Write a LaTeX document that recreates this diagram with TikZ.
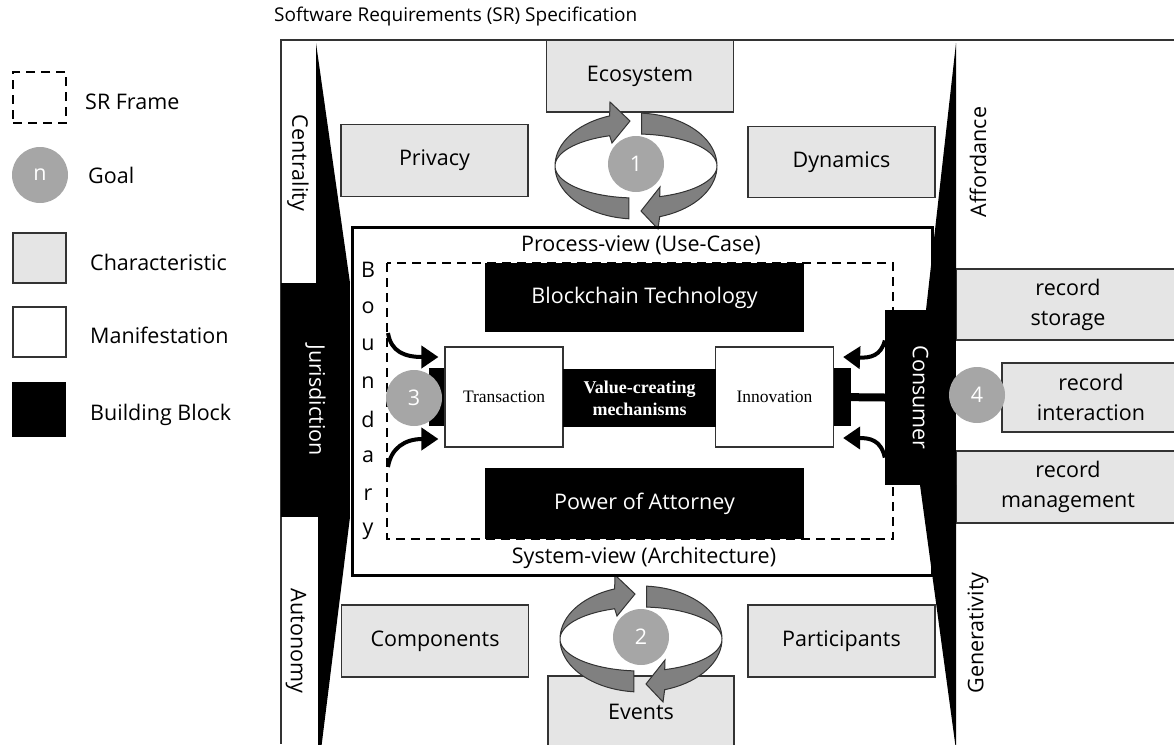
\documentclass[tikz,border=0pt]{standalone}
\usepackage{fontspec}
\setmainfont{Open Sans}
\newfontfamily\timesfont{Liberation Serif}
\usetikzlibrary{arrows.meta, positioning}
\tikzset{>=Triangle}

\begin{document}
\begin{tikzpicture}[x=1pt, y=-1pt, font=\fontsize{21.5}{30}\selectfont,
  charbox/.style={draw=black!80, line width=1.2pt, fill=black!10, minimum width=187pt, minimum height=72pt, inner sep=0pt},
  manif/.style={draw=black!80, line width=1.2pt, fill=white, minimum width=118pt, minimum height=100pt, inner sep=0pt, font=\timesfont\fontsize{17.5}{21}\selectfont},
  block/.style={fill=black, text=white, inner sep=0pt},
  goal/.style={circle, fill=black!35, text=white, minimum size=56pt, inner sep=0pt},
  srframe/.style={dash pattern=on 9pt off 6pt, line width=2.5pt},
  ribbon/.style={fill=black!50, draw=black!80, line width=1pt},
  curvedarrow/.style={line width=4pt, -{Triangle[length=17pt,width=22pt]}},
  lbl/.style={anchor=west, inner sep=0pt}]
\useasboundingbox (0,0) rectangle (1174,744);

% legend
\node[draw, srframe, minimum width=53pt, minimum height=51pt] (lgframe) at (39.5,97.5) {};
\node[lbl] (lgframetxt) at (85,102) {SR Frame};
\node[goal] (lggoal) at (40,175) {n};
\node[lbl] (lggoaltxt) at (88,175) {Goal};
\node[charbox, minimum width=53pt, minimum height=50pt] (lgchar) at (39.5,258) {};
\node[lbl] (lgchartxt) at (90,262) {Characteristic};
\node[manif, minimum width=53pt, minimum height=50pt] (lgman) at (39.5,332) {};
\node[lbl] (lgmantxt) at (90,335) {Manifestation};
\node[block, minimum width=54pt, minimum height=55pt] (lgblock) at (39,409.5) {};
\node[lbl] (lgblocktxt) at (90,415) {Building Block};

% specification frame
\node[lbl, font=\fontsize{19}{23}\selectfont] (title) at (274,17) {Software Requirements (SR) Specification};
\draw[line width=1.2pt, black!80] (1174,40) -- (281,40) -- (281,744);

% characteristics
\node[charbox] (eco) at (640,76) {Ecosystem};
\node[charbox] (priv) at (434.5,160.5) {Privacy};
\node[charbox, minimum height=71pt] (dyn) at (841.5,162) {Dynamics};
\node[charbox] (comp) at (435,641) {Components};
\node[charbox] (part) at (841.5,641) {Participants};
\node[charbox, minimum width=186pt] (events) at (641,712) {Events};
\node[charbox, minimum width=224pt, minimum height=71pt, align=center] (store) at (1068,304.5) {record\\storage};
\node[charbox, minimum width=178pt, minimum height=69pt, align=center] (inter) at (1091,397.5) {record\\interaction};
\node[charbox, minimum width=224pt, align=center] (manage) at (1068,487) {record\\management};

% goal cycles
\foreach \cx/\cy in {636/166, 641/639} {
  \filldraw[ribbon] plot[domain=265:109, samples=40] ({\cx+81*cos(\x)},{\cy-53*sin(\x)})
    -- (\cx-26,\cy-64) -- (\cx-6,\cy-45) -- (\cx-24,\cy-23)
    -- plot[domain=109:265, samples=40] ({\cx+81*cos(\x)},{\cy-32*sin(\x)}) -- cycle;
  \filldraw[ribbon] plot[domain=86:-73, samples=40] ({\cx+81*cos(\x)},{\cy-53*sin(\x)})
    -- (\cx+22,\cy+63) -- (\cx+5,\cy+45) -- (\cx+24,\cy+21)
    -- plot[domain=-73:86, samples=40] ({\cx+81*cos(\x)},{\cy-32*sin(\x)}) -- cycle;
}
\node[goal] (g1) at (636,164) {1};
\node[goal] (g2) at (641,637) {2};

% process / system view
\draw[line width=3pt] (352,227) rectangle (932,575);
\node (proc) at (641,245) {Process-view (Use-Case)};
\node (sys) at (644,558) {System-view (Architecture)};
\draw[srframe] (387,263) rectangle (893,539);
\foreach \l [count=\i from 0] in {B,o,u,n,d,a,r,y}
  \node[inner sep=0pt] (bd\i) at (368,270+37.4*\i) {\l};

% wedges and side blocks
\fill (316,43) -- (350,283) -- (316,283) -- cycle;
\fill (318,517) -- (350,517) -- (321,750) -- (318,750) -- cycle;
\fill (956,43) -- (956,310) -- (926,310) -- cycle;
\fill (920,485) -- (956,485) -- (956,750) -- cycle;
\node[block, minimum width=69pt, minimum height=234pt] (juris) at (315.5,400) {\rotatebox{-90}{Jurisdiction}};
\node[block, minimum width=71pt, minimum height=175pt] (cons) at (920.5,397.5) {\rotatebox{-90}{Consumer}};

\node[rotate=-90] (cent) at (298,163) {Centrality};
\node[rotate=-90] (auton) at (296,641) {Autonomy};
\node[rotate=90] (aff) at (978,162) {Affordance};
\node[rotate=90] (gen) at (978,633) {Generativity};

% building blocks and mechanisms
\node[block, minimum width=319pt, minimum height=69pt] (chain) at (644.5,297.5) {Blockchain Technology};
\node[block, minimum width=319pt, minimum height=71pt] (poa) at (644.5,503.5) {Power of Attorney};
\node[manif] (trans) at (504,397) {Transaction};
\node[manif] (innov) at (774.5,397) {Innovation};
\node[block, font=\timesfont\fontsize{18}{22}\selectfont\bfseries, align=center, minimum width=153pt, minimum height=58pt] (value) at (639.5,398) {Value-creating\\mechanisms};

\fill ([xshift=-15pt,yshift=-29pt]trans.west) rectangle ([yshift=29pt]trans.west);
\fill ([yshift=-29pt]innov.east) rectangle ([xshift=17pt,yshift=29pt]innov.east);
\draw[line width=8pt] (innov.east) -- (cons.west);

\coordinate (bdtop) at (388,333);
\coordinate (bdbot) at (388,467);
\draw[curvedarrow] (bdtop) .. controls (391,352) and (405,357) .. ([xshift=-6pt,yshift=40pt]trans.west);
\draw[curvedarrow] (bdbot) .. controls (391,448) and (405,439) .. ([xshift=-6pt,yshift=-42pt]trans.west);
\draw[curvedarrow] ([yshift=57pt]cons.west) .. controls (881,356) and (870,358) .. ([xshift=9pt,yshift=40pt]innov.east);
\draw[curvedarrow] ([yshift=-60pt]cons.west) .. controls (881,440) and (870,438) .. ([xshift=9pt,yshift=-41pt]innov.east);

\node[goal] (g3) at (414,398) {3};
\node[goal] (g4) at (977,395) {4};
\end{tikzpicture}
\end{document}
